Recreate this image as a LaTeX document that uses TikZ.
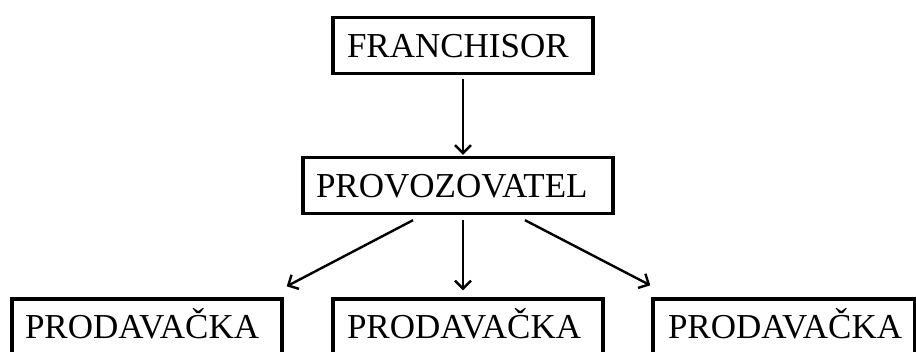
\documentclass[tikz,border=0pt]{standalone}
\usepackage{fontspec}
\setmainfont{Liberation Serif}
\usetikzlibrary{calc,arrows.meta,shadows}
\begin{document}
\begin{tikzpicture}[x=1pt,y=-1pt,
  box/.style={draw=black, line width=3.4pt, fill=white, inner xsep=0pt, inner ysep=0pt,
    minimum height=56pt, text height=24pt, text depth=0pt, align=left,
    font=\fontsize{35}{40}\selectfont,
    drop shadow={shadow xshift=1.5pt, shadow yshift=-1.5pt, fill=black!25, opacity=0.6}},
  conn/.style={line width=2.4pt, -{Straight Barb[length=8pt,width=16pt,line width=2.4pt]}}]
\useasboundingbox (0,0) rectangle (916,352);
\begin{scope}
\clip (0,0) rectangle (916,352);
\node[box, minimum width=260pt, text width=232pt] (f) at (463,45.5) {FRANCHISOR};
\node[box, minimum width=310pt, text width=284pt] (prov) at (458,185.5) {PROVOZOVATEL};
\node[box, minimum width=270pt, text width=244pt] (p1) at (147,327) {PRODAVAČKA};
\node[box, minimum width=270pt, text width=242pt] (p2) at (468,327) {PRODAVAČKA};
\node[box, minimum width=262pt, text width=232pt] (p3) at (784,327) {PRODAVAČKA};
\draw[conn] ($(f.south)+(0,4)$) -- ($(f.south |- prov.north)+(0,-1)$);
\draw[conn] ($(prov.south)+(-45,5)$) -- ($(p1.north east)+(3,-11)$);
\draw[conn] ($(prov.south)+(5,5)$) -- ($(p2.north)+(-5,-7)$);
\draw[conn] ($(prov.south)+(67,5)$) -- ($(p3.north west)+(-1,-12)$);
\end{scope}
\end{tikzpicture}
\end{document}
